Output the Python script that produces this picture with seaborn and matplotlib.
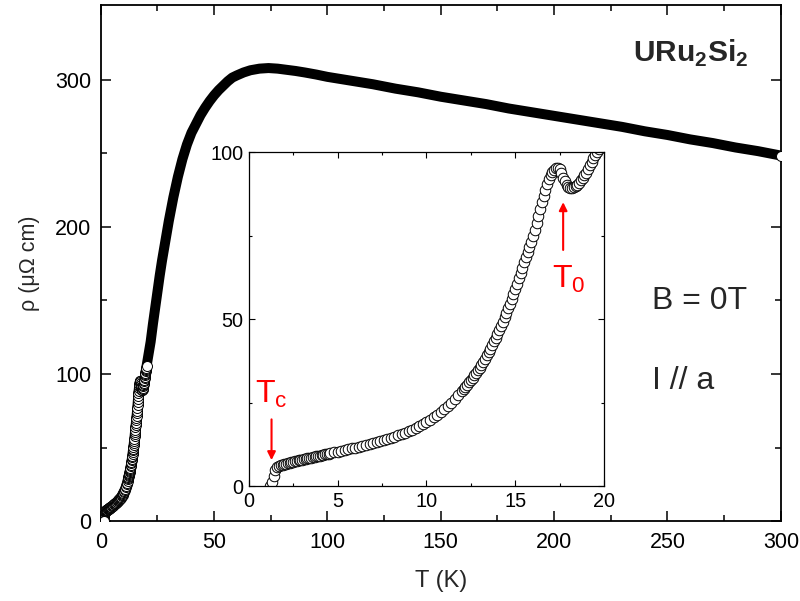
import matplotlib
matplotlib.use("Agg")
import matplotlib.pyplot as plt
import seaborn as sns

# low temperature part (also shown in the inset)
T_low = [1.2, 1.3, 1.4, 1.5, 1.6, 1.7, 1.8, 1.9, 2.0, 2.1, 2.2, 2.3, 2.4, 2.5,
         2.6, 2.7, 2.8, 2.9, 3.0, 3.1, 3.2, 3.3, 3.4, 3.5, 3.6, 3.7, 3.8, 3.9,
         4.0, 4.1, 4.2, 4.3, 4.4, 4.5,
         4.6, 4.8, 5.0, 5.2, 5.4, 5.6, 5.8, 6.0, 6.2, 6.4, 6.6, 6.8, 7.0, 7.2,
         7.4, 7.6, 7.8, 8.0, 8.2, 8.4, 8.6, 8.8, 9.0, 9.2, 9.4, 9.6, 9.8, 10.0,
         10.2, 10.4, 10.6, 10.8, 11.0, 11.2, 11.4, 11.6, 11.8,
         12.0, 12.1, 12.2, 12.3, 12.4, 12.5, 12.6, 12.7, 12.8, 12.9,
         13.0, 13.1, 13.2, 13.3, 13.4, 13.5, 13.6, 13.7, 13.8, 13.9,
         14.0, 14.1, 14.2, 14.3, 14.4, 14.5, 14.6, 14.7, 14.8, 14.9,
         15.0, 15.1, 15.2, 15.3, 15.4, 15.5, 15.6, 15.7, 15.8, 15.9,
         16.0, 16.1, 16.2, 16.3, 16.4, 16.5, 16.6, 16.7, 16.8, 16.9,
         17.0, 17.1, 17.2, 17.3, 17.4, 17.5, 17.6, 17.7, 17.8, 17.9,
         18.0, 18.1, 18.2, 18.3, 18.4, 18.5, 18.6, 18.7, 18.8, 18.9,
         19.0, 19.1, 19.2, 19.3, 19.4, 19.5, 19.6, 19.7, 19.8, 19.9,
         20.0, 20.1, 20.2]
rho_low = [0.0, 1.2, 3.0, 4.8, 5.6, 5.9, 6.2, 6.4, 6.6, 6.7, 6.9, 7.0, 7.2, 7.3,
           7.4, 7.5, 7.7, 7.8, 7.9, 8.0, 8.1, 8.3, 8.4, 8.5, 8.6, 8.7, 8.9, 9.0,
           9.1, 9.2, 9.3, 9.5, 9.6, 9.7,
           9.8, 10.1, 10.3, 10.5, 10.8, 11.0, 11.3, 11.5, 11.7, 12.0, 12.3, 12.5, 12.8, 13.1,
           13.4, 13.7, 14.0, 14.4, 14.8, 15.2, 15.6, 16.0, 16.4, 16.9, 17.5, 18.0, 18.6, 19.2,
           19.9, 20.6, 21.3, 22.1, 23.0, 24.0, 25.0, 26.1, 27.3,
           28.5, 29.1, 29.8, 30.4, 31.1, 31.8, 32.5, 33.2, 34.0, 34.7,
           35.5, 36.4, 37.3, 38.2, 39.2, 40.2, 41.2, 42.3, 43.4, 44.5,
           45.6, 46.8, 48.0, 49.2, 50.5, 51.8, 53.2, 54.6, 56.0, 57.5,
           59.0, 60.6, 62.2, 63.8, 65.4, 67.0, 68.5, 70.0, 71.6, 73.2,
           74.8, 76.8, 78.9, 80.9, 83.0, 85.0, 86.9, 88.7, 90.3, 91.8,
           93.0, 94.0, 94.7, 95.1, 95.1, 94.8, 93.6, 92.3, 91.2, 90.2,
           89.5, 89.1, 89.1, 89.4, 89.7, 90.0, 90.7, 91.5, 92.3, 93.0,
           93.8, 94.9, 96.0, 97.1, 98.2, 99.1, 100.0, 100.9, 101.8, 102.6,
           103.5, 104.3, 105.2]

# rest of the curve up to room temperature
T_high = [21, 22, 23, 24, 25, 26, 27, 28, 29, 30, 31, 32, 33, 34, 35, 36, 37, 38,
          40, 42, 44, 46, 48, 50, 52, 54, 56, 58, 60, 63, 66, 70, 74, 78, 82, 86,
          90, 95, 100, 110, 120, 130, 140, 150, 160, 170, 180, 190, 200, 210, 220,
          230, 240, 250, 260, 270, 280, 290, 300]
rho_high = [113, 122, 134, 145, 156, 167, 177, 186, 195, 204, 212, 220, 227, 234,
            240, 246, 251, 256, 264, 270, 276, 281, 285.5, 289.5, 293, 296, 299,
            301.5, 303, 305, 306.5, 307.6, 308, 307.6, 306.8, 306, 305, 303.6, 302,
            299.5, 297, 294, 291.5, 288.5, 286, 283.5, 280.5, 278, 275.5, 273,
            270.5, 268, 265, 262.5, 259.5, 257, 254, 251.5, 248.5]

T_all = T_low + T_high
rho_all = rho_low + rho_high

sns.set_style("ticks")
plt.rcParams['font.family'] = ['Liberation Sans', 'DejaVu Sans']
plt.rcParams['mathtext.fontset'] = 'custom'
plt.rcParams['mathtext.rm'] = 'Liberation Sans'
plt.rcParams['mathtext.bf'] = 'Liberation Sans:bold'

fig = plt.figure(figsize=(8, 6.01), dpi=100)
ax = fig.add_axes([0.126, 0.133, 0.85, 0.859])

# thick band for the dense data
sns.lineplot(x=T_all, y=rho_all, ax=ax, color='black', linewidth=7.2,
             estimator=None, sort=False, solid_capstyle='round', zorder=2)
sns.lineplot(x=T_low, y=rho_low, ax=ax, color='black', linewidth=0, marker='o',
             markersize=7.2, markerfacecolor='white', markeredgecolor='black',
             markeredgewidth=0.7, estimator=None, sort=False, zorder=3)
ax.plot([T_all[0], T_all[-1]], [rho_all[0], rho_all[-1]], 'o', ms=7.2,
        mfc='white', mec='black', mew=0.7, ls='none', zorder=4)

ax.set_xlim(0, 300)
ax.set_ylim(0, 351)
ax.set_xticks([0, 50, 100, 150, 200, 250, 300])
ax.set_xticks([25, 75, 125, 175, 225, 275], minor=True)
ax.set_yticks([0, 100, 200, 300])
ax.set_yticks([50, 150, 250], minor=True)
ax.tick_params(which='both', direction='in', top=True, right=True, width=1.1,
               colors='black', labelsize=15.5)
ax.tick_params(which='major', length=7.5)
ax.tick_params(which='minor', length=4)
ax.tick_params(axis='x', pad=8)
ax.tick_params(axis='y', pad=7)
for s in ax.spines.values():
    s.set_linewidth(1.3)
    s.set_color('black')
ax.set_xlabel('T (K)', fontsize=17, labelpad=12)
ax.set_ylabel('ρ (μΩ cm)', fontsize=15.5, labelpad=11)

ax.text(0.952, 0.905, r'URu$_\mathbf{2}$Si$_\mathbf{2}$', transform=ax.transAxes,
        fontsize=21.5, fontweight='bold', ha='right', va='center')
ax.text(0.810, 0.427, 'B = 0T', transform=ax.transAxes, fontsize=23,
        ha='left', va='center')
ax.text(0.810, 0.272, 'I // a', transform=ax.transAxes, fontsize=23,
        ha='left', va='center')

# inset
axin = fig.add_axes([0.311, 0.191, 0.444, 0.556])
sns.lineplot(x=T_low, y=rho_low, ax=axin, color='black', linewidth=0, marker='o',
             markersize=7.6, markerfacecolor='white', markeredgecolor='black',
             markeredgewidth=0.7, estimator=None, sort=False)
axin.set_xlim(0, 20)
axin.set_ylim(0, 100)
axin.set_xticks([0, 5, 10, 15, 20])
axin.set_xticks([2.5, 7.5, 12.5, 17.5], minor=True)
axin.set_yticks([0, 50, 100])
axin.set_yticks([25, 75], minor=True)
axin.tick_params(which='both', direction='in', top=True, right=True, width=0.8,
                 colors='black', labelsize=14.3, pad=4)
axin.tick_params(which='major', length=4.5)
axin.tick_params(which='minor', length=2.5)
for s in axin.spines.values():
    s.set_linewidth(0.9)
    s.set_color('black')
axin.set_xlabel('')
axin.set_ylabel('')

axin.text(0.35, 25, r'T$_\mathrm{c}$', color='red', fontsize=23, ha='left',
          va='baseline')
axin.annotate('', xy=(1.28, 7.8), xytext=(1.28, 20),
              arrowprops=dict(arrowstyle='-|>', color='red', lw=1.5,
                              mutation_scale=12, shrinkA=0, shrinkB=0))
axin.text(17.05, 59.3, r'T$_\mathrm{0}$', color='red', fontsize=23, ha='left',
          va='baseline')
axin.annotate('', xy=(17.7, 85), xytext=(17.7, 70.7),
              arrowprops=dict(arrowstyle='-|>', color='red', lw=1.5,
                              mutation_scale=12, shrinkA=0, shrinkB=0))

fig.savefig('out.png', dpi=100)
